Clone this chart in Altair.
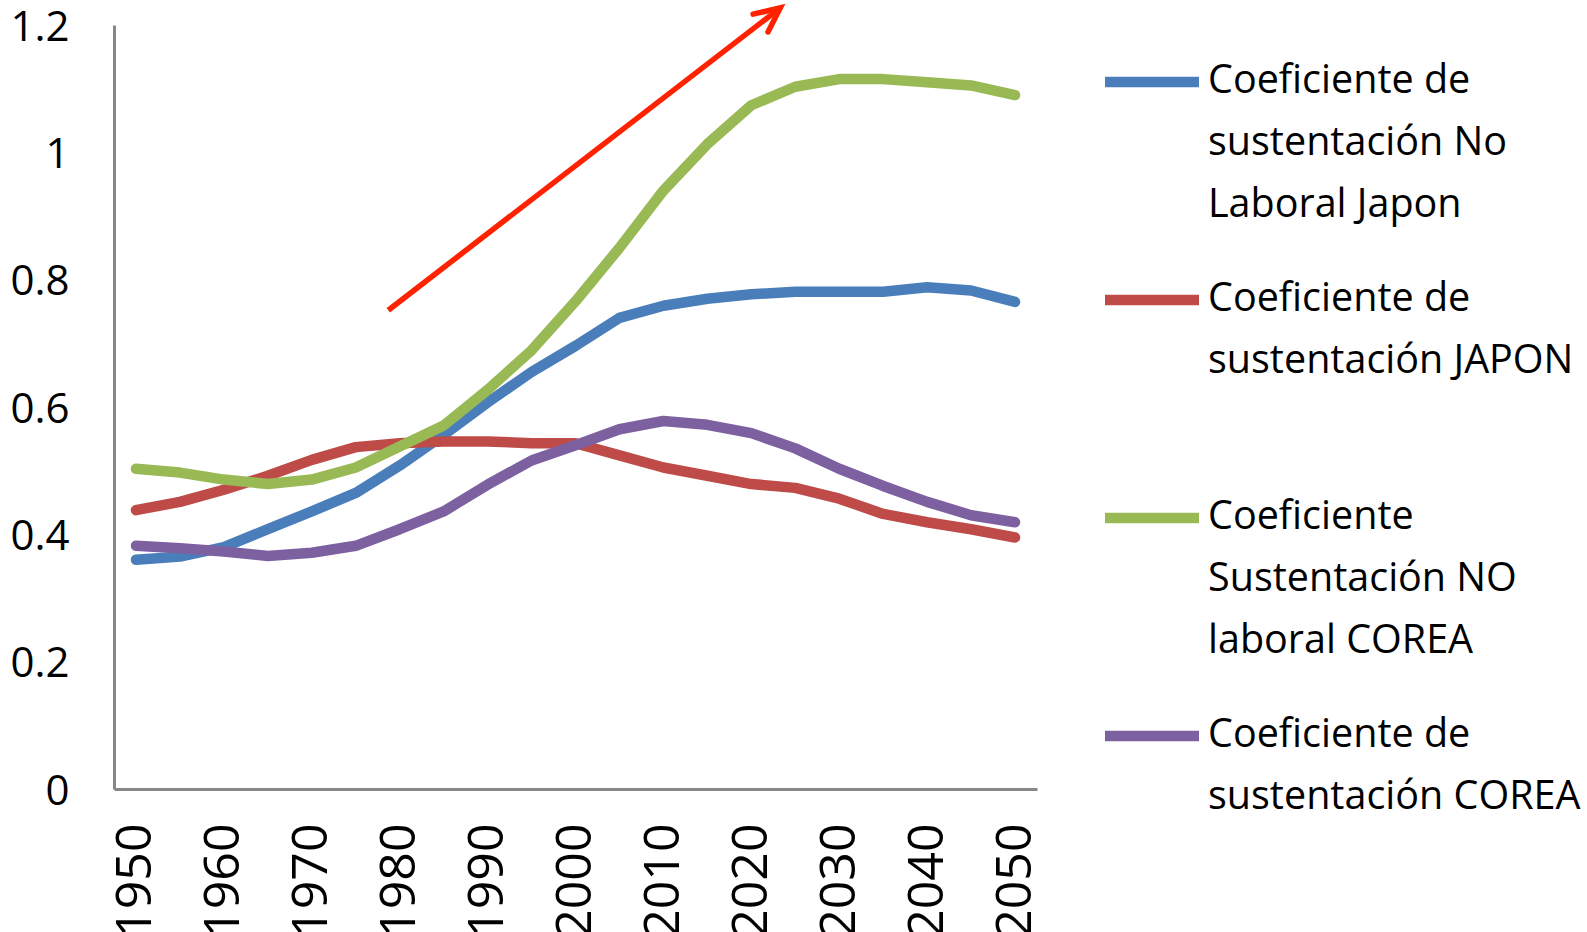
import altair as alt
import pandas as pd

# Years on the category axis (every 5 years)
years = list(range(1950, 2051, 5))

# Dependency coefficients per series
no_laboral_japon = [0.360, 0.365, 0.380, 0.408, 0.436, 0.465, 0.508, 0.556, 0.607, 0.655, 0.696,
                    0.740, 0.759, 0.770, 0.777, 0.781, 0.781, 0.781, 0.788, 0.783, 0.765]
japon = [0.438, 0.451, 0.470, 0.492, 0.517, 0.537, 0.543, 0.546, 0.546, 0.543, 0.543,
         0.524, 0.505, 0.492, 0.479, 0.473, 0.456, 0.432, 0.419, 0.408, 0.395]
no_laboral_corea = [0.503, 0.497, 0.486, 0.479, 0.486, 0.505, 0.538, 0.571, 0.627, 0.689, 0.766,
                    0.850, 0.940, 1.013, 1.074, 1.103, 1.115, 1.115, 1.110, 1.105, 1.090]
corea = [0.382, 0.378, 0.373, 0.366, 0.371, 0.382, 0.408, 0.436, 0.478, 0.516, 0.540,
         0.565, 0.578, 0.572, 0.559, 0.535, 0.503, 0.476, 0.451, 0.430, 0.419]

# Legend text, one list of lines per series (padded to three lines)
series_lines = [
    ["Coeficiente de", "sustentación No", "Laboral Japon"],
    ["Coeficiente de", "sustentación JAPON", " "],
    ["Coeficiente", "Sustentación NO", "laboral COREA"],
    ["Coeficiente de", "sustentación COREA", " "],
]
series_names = ["\n".join(lines) for lines in series_lines]
series_values = [no_laboral_japon, japon, no_laboral_corea, corea]
series_colors = ["#4a7ebb", "#be4b48", "#98b954", "#7d60a0"]

# Trend arrow (shaft and open head), in year / coefficient units
arrow_shaft_year = [1978.7, 2023.3]
arrow_shaft_value = [0.752, 1.227]
arrow_head_year = [2020.2, 2023.3, 2021.9]
arrow_head_value = [1.217, 1.227, 1.189]

rows = []
for name, values in zip(series_names, series_values):
    for y, v in zip(years, values):
        rows.append({"serie": name, "anio": y, "valor": v})
df = pd.DataFrame(rows)

shaft = pd.DataFrame({"anio": arrow_shaft_year, "valor": arrow_shaft_value, "i": [0, 1]})
head = pd.DataFrame({"anio": arrow_head_year, "valor": arrow_head_value, "i": [0, 1, 2]})

FONT = "Open Sans"

x_scale = alt.Scale(domain=[1947.5, 2052.5], nice=False, zero=False)
y_scale = alt.Scale(domain=[0, 1.2], nice=False)

x_axis = alt.Axis(
    values=list(range(1950, 2051, 10)), format="d", labelAngle=-90, title=None,
    labelFont=FONT, labelFontSize=50, labelColor="black", labelPadding=34,
    ticks=False, grid=False, domainColor="#878787", domainWidth=3,
)
y_axis = alt.Axis(
    values=[0, 0.2, 0.4, 0.6, 0.8, 1, 1.2], format="~g", title=None,
    labelFont=FONT, labelFontSize=42, labelColor="black", labelPadding=45,
    labelOffset=2,
    ticks=False, grid=False, domainColor="#878787", domainWidth=3,
)

# Legend swatch: a horizontal stroke drawn level with the first label line
legend = alt.Legend(
    title=None, orient="none", legendX=1009, legendY=-3, padding=0,
    labelExpr="split(datum.label, '\\n')",
    labelFont=FONT, labelFontSize=39.5, labelColor="black",
    labelBaseline="line-top", labelLimit=1000, labelOffset=27,
    symbolType="M-2,1.32L2,1.32", symbolSize=2209, symbolStrokeWidth=10.5,
    rowPadding=15,
)

lines = alt.Chart(df).mark_line(strokeWidth=10.5, strokeCap="round", strokeJoin="round").encode(
    x=alt.X("anio:Q", scale=x_scale, axis=x_axis),
    y=alt.Y("valor:Q", scale=y_scale, axis=y_axis),
    color=alt.Color("serie:N", scale=alt.Scale(domain=series_names, range=series_colors),
                    sort=series_names, legend=legend),
)

arrow_shaft = alt.Chart(shaft).mark_line(color="#ff2200", strokeWidth=5.5, strokeCap="butt").encode(
    x=alt.X("anio:Q", scale=x_scale), y=alt.Y("valor:Q", scale=y_scale), order="i:Q",
)
arrow_head = alt.Chart(head).mark_line(color="#ff2200", strokeWidth=5.5, strokeCap="round",
                                       strokeJoin="miter").encode(
    x=alt.X("anio:Q", scale=x_scale), y=alt.Y("valor:Q", scale=y_scale), order="i:Q",
)

chart = alt.layer(lines, arrow_shaft, arrow_head).properties(
    width=923, height=764,
    autosize=alt.AutoSizeParams(type="none"),
    padding={"left": 114, "top": 25, "right": 550, "bottom": 143},
).configure(
    font=FONT,
    style={"guide-label": {"lineHeight": 62}},
).configure_view(stroke=None)

chart.save("out.html", embed_options={"renderer": "svg", "actions": False})
